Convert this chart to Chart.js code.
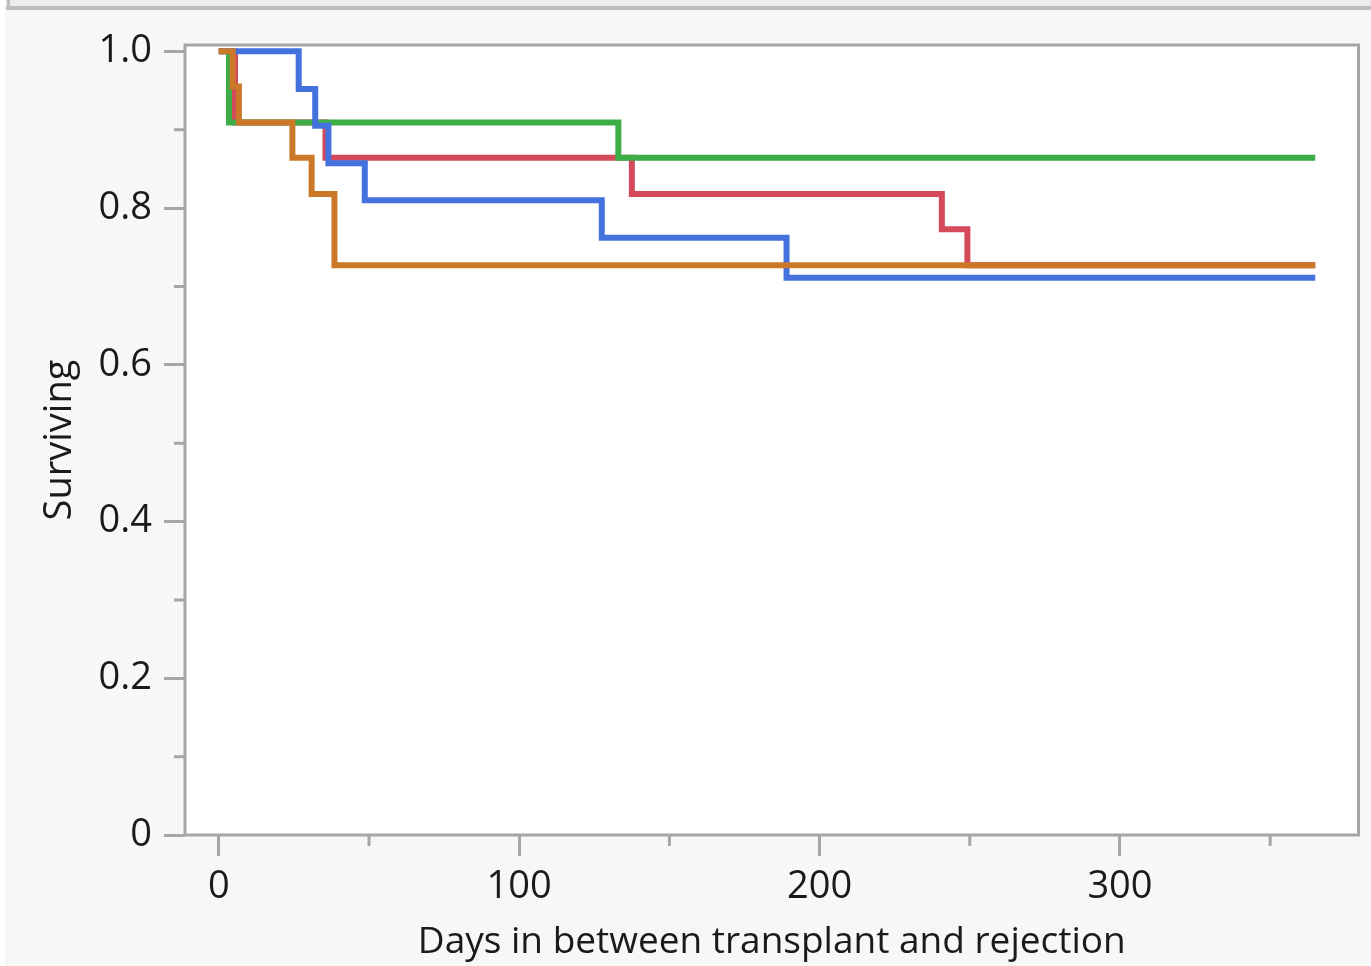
<!DOCTYPE html>
<html lang="en">
<head>
    <meta charset="UTF-8">
    <title>Surviving vs Days</title>
    <script src="https://cdn.jsdelivr.net/npm/chart.js"></script>
    <style>
        html, body {
            margin: 0;
            padding: 0;
            background: #f7f7f7;
        }
        canvas {
            display: block;
        }
    </style>
</head>
<body>
    <canvas id="kmChart" width="1371" height="966"></canvas>

    <script>
        // Kaplan-Meier steps: day of each drop and survival after it
        const orangeDays = [0, 4.6, 6.7, 24.5, 30.9, 38.5, 365];
        const orangeSurv = [1, 0.955, 0.909, 0.864, 0.818, 0.727, 0.727];

        const blueDays = [0, 26.6, 32.1, 36.5, 48.6, 127.5, 189, 365];
        const blueSurv = [1, 0.952, 0.905, 0.857, 0.810, 0.762, 0.711, 0.711];

        const greenDays = [0, 3.4, 133, 365];
        const greenSurv = [1, 0.909, 0.864, 0.864];

        const redDays = [0, 5.4, 35.5, 137.5, 240.7, 249.2, 365];
        const redSurv = [1, 0.909, 0.864, 0.818, 0.773, 0.727, 0.727];

        const xTicks = [0, 100, 200, 300];
        const yTicks = [0, 0.2, 0.4, 0.6, 0.8, 1.0];

        const FONT = "'Open Sans', 'Noto Sans', sans-serif";
        const AXIS_GRAY = "#a6a6a6";

        function toPoints(days, surv) {
            return days.map((d, i) => ({ x: d, y: surv[i] }));
        }

        // page backdrop, white plot area and the frame round it
        const backdrop = {
            id: "backdrop",
            beforeDraw(chart) {
                const { ctx, chartArea: a } = chart;
                ctx.save();
                ctx.fillStyle = "#f7f7f7";
                ctx.fillRect(0, 0, chart.width, chart.height);
                ctx.fillStyle = "#ececec";
                ctx.fillRect(6, 0, chart.width - 6, 6);
                ctx.fillStyle = "#bdbdbd";
                ctx.fillRect(6, 6, chart.width - 6, 4);
                ctx.fillRect(7, 0, 3, 8);
                ctx.fillStyle = "#ffffff";
                ctx.fillRect(0, 0, 5, chart.height);
                ctx.fillRect(a.left, a.top, a.right - a.left, a.bottom - a.top);
                ctx.restore();
            },
            beforeDatasetsDraw(chart) {
                const { ctx, chartArea: a } = chart;
                ctx.save();
                ctx.strokeStyle = AXIS_GRAY;
                ctx.lineWidth = 3;
                ctx.strokeRect(a.left, a.top, a.right - a.left, a.bottom - a.top);
                ctx.restore();
            }
        };

        // short ticks halfway between the labelled ones
        const minorTicks = {
            id: "minorTicks",
            afterDraw(chart) {
                const { ctx } = chart;
                const xs = chart.scales.x, ys = chart.scales.y;
                ctx.save();
                ctx.strokeStyle = AXIS_GRAY;
                ctx.lineWidth = 3;
                ctx.beginPath();
                for (let i = 0; i < xTicks.length; i++) {
                    const v = xTicks[i] + 50;
                    if (v > xs.max) continue;
                    const px = xs.getPixelForValue(v);
                    ctx.moveTo(px, xs.top);
                    ctx.lineTo(px, xs.top + 11);
                }
                for (let i = 0; i < yTicks.length; i++) {
                    const v = yTicks[i] + 0.1;
                    if (v > ys.max) continue;
                    const py = ys.getPixelForValue(v);
                    ctx.moveTo(ys.right, py);
                    ctx.lineTo(ys.right - 11, py);
                }
                ctx.stroke();
                ctx.restore();
            }
        };

        const lineStyle = {
            pointRadius: 0,
            borderWidth: 6,
            fill: false,
            stepped: true,
            borderJoinStyle: "miter",
            borderCapStyle: "butt"
        };

        const ctx = document.getElementById("kmChart").getContext("2d");
        const chart = new Chart(ctx, {
            type: "line",
            data: {
                datasets: [
                    { label: "orange", data: toPoints(orangeDays, orangeSurv), borderColor: "#cc7829", ...lineStyle },
                    { label: "blue", data: toPoints(blueDays, blueSurv), borderColor: "#4371de", ...lineStyle },
                    { label: "green", data: toPoints(greenDays, greenSurv), borderColor: "#3dae47", ...lineStyle },
                    { label: "red", data: toPoints(redDays, redSurv), borderColor: "#d54a5a", ...lineStyle }
                ]
            },
            options: {
                responsive: false,
                devicePixelRatio: 1,
                animation: false,
                layout: { padding: { top: 45, right: 12.5, left: 0, bottom: 0 } },
                plugins: {
                    legend: { display: false },
                    tooltip: { enabled: false }
                },
                scales: {
                    x: {
                        type: "linear",
                        min: -11.25,
                        max: 379.4,
                        afterFit: s => { s.height = 131; },
                        afterBuildTicks: s => { s.ticks = xTicks.map(v => ({ value: v })); },
                        ticks: {
                            font: { family: FONT, size: 38 },
                            color: "#1a1a1a",
                            padding: 8,
                            maxRotation: 0
                        },
                        grid: {
                            drawOnChartArea: false,
                            drawTicks: true,
                            tickLength: 21,
                            tickColor: AXIS_GRAY,
                            tickWidth: 3
                        },
                        border: { display: false },
                        title: {
                            display: true,
                            text: "Days in between transplant and rejection",
                            font: { family: FONT, size: 37 },
                            color: "#1a1a1a",
                            padding: { top: 0, bottom: 1 }
                        }
                    },
                    y: {
                        type: "linear",
                        min: 0,
                        max: 1.008,
                        afterFit: s => { s.width = 185; },
                        afterBuildTicks: s => { s.ticks = yTicks.map(v => ({ value: v })); },
                        ticks: {
                            font: { family: FONT, size: 38 },
                            color: "#1a1a1a",
                            padding: 12,
                            callback: v => v === 0 ? "0" : v.toFixed(1)
                        },
                        grid: {
                            drawOnChartArea: false,
                            drawTicks: true,
                            tickLength: 21,
                            tickColor: AXIS_GRAY,
                            tickWidth: 3
                        },
                        border: { display: false },
                        title: {
                            display: true,
                            text: "Surviving",
                            font: { family: FONT, size: 38 },
                            color: "#1a1a1a",
                            padding: { top: 37, bottom: 0 }
                        }
                    }
                }
            },
            plugins: [backdrop, minorTicks]
        });
    </script>
</body>
</html>
